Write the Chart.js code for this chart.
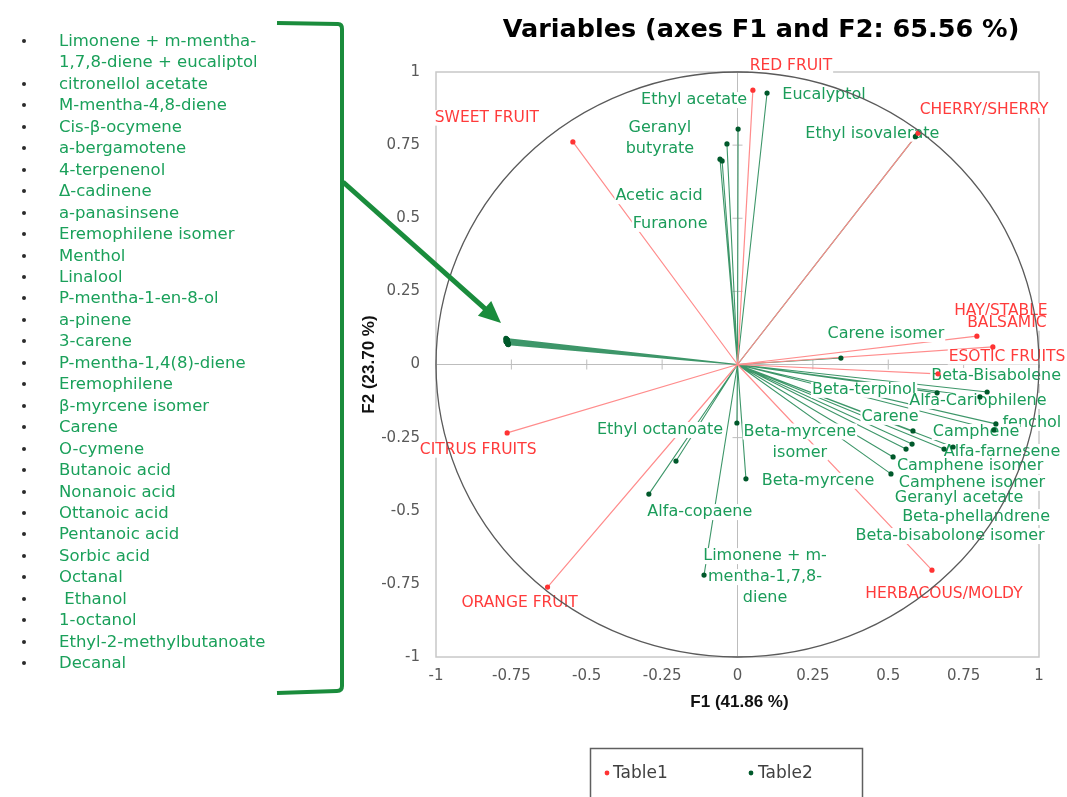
<!DOCTYPE html>
<html>
<head>
<meta charset="utf-8">
<script src="https://cdn.jsdelivr.net/npm/chart.js@4.4.1/dist/chart.umd.min.js"></script>
<style>
  html, body { margin: 0; padding: 0; background: #fff; }
  #wrap { position: relative; width: 1067px; height: 797px; overflow: hidden; }
  #plot { position: absolute; left: 0; top: 0; }
  #list {
    position: absolute; left: 0; top: 30px; margin: 0; padding: 0; list-style: none;
    font-family: 'DejaVu Sans', sans-serif; font-size: 16.5px; line-height: 21.45px; color: #1aa05a;
  }
  #list li { position: relative; padding-left: 59px; width: 232px; }
  #list li::before {
    content: ''; position: absolute; left: 22px; top: 9px; width: 4px; height: 4px;
    border-radius: 50%; background: #2b2b2b;
  }
</style>
</head>
<body>
<div id="wrap">
  <canvas id="plot" width="1067" height="797"></canvas>
  <ul id="list"></ul>
</div>
<script>
// ---- axis ticks ----
const tickValues = [-1, -0.75, -0.5, -0.25, 0, 0.25, 0.5, 0.75, 1];
const tickLabels = ['-1', '-0.75', '-0.5', '-0.25', '0', '0.25', '0.5', '0.75', '1'];

// ---- Table1: sensory descriptors (F1, F2 loadings) ----
const table1Names = ['RED FRUIT', 'SWEET FRUIT', 'CHERRY/SHERRY', 'HAY/STABLE', 'BALSAMIC',
                     'ESOTIC FRUITS', 'CITRUS FRUITS', 'ORANGE FRUIT', 'HERBACOUS/MOLDY'];
const table1F1 = [0.051, -0.546, 0.599, 0.794, 0.847, 0.665, -0.764, -0.630, 0.645];
const table1F2 = [0.938, 0.761, 0.791, 0.097, 0.060, -0.032, -0.234, -0.761, -0.703];

// ---- Table2: volatile compounds grouped on the left (listed beside the plot) ----
const groupedNames = ['Limonene + m-mentha-1,7,8-diene + eucaliptol', 'citronellol acetate',
  'M-mentha-4,8-diene', 'Cis-\u03b2-ocymene', 'a-bergamotene', '4-terpenenol', '\u0394-cadinene',
  'a-panasinsene', 'Eremophilene isomer', 'Menthol', 'Linalool', 'P-mentha-1-en-8-ol', 'a-pinene',
  '3-carene', 'P-mentha-1,4(8)-diene', 'Eremophilene', '\u03b2-myrcene isomer', 'Carene', 'O-cymene',
  'Butanoic acid', 'Nonanoic acid', 'Ottanoic acid', 'Pentanoic acid', 'Sorbic acid', 'Octanal',
  '\u00a0Ethanol', '1-octanol', 'Ethyl-2-methylbutanoate', 'Decanal'];
const groupedF1 = [-0.768, -0.765, -0.763, -0.767, -0.762, -0.766, -0.764, -0.760, -0.768, -0.765,
  -0.763, -0.761, -0.766, -0.764, -0.767, -0.762, -0.765, -0.763, -0.760, -0.766, -0.764, -0.762,
  -0.765, -0.761, -0.767, -0.763, -0.766, -0.764, -0.762];
const groupedF2 = [0.089, 0.085, 0.081, 0.078, 0.075, 0.087, 0.083, 0.072, 0.080, 0.076, 0.084,
  0.070, 0.079, 0.082, 0.086, 0.074, 0.077, 0.073, 0.068, 0.081, 0.078, 0.071, 0.083, 0.069, 0.088,
  0.075, 0.080, 0.077, 0.072];

// ---- Table2: labelled volatile compounds ----
const table2Names = ['Eucalyptol', 'Ethyl acetate', 'Geranyl\nbutyrate', 'Acetic acid', 'Furanone',
  'Ethyl isovalerate', 'Carene isomer', 'Beta-Bisabolene', 'Beta-terpinol', 'Alfa-Cariophilene',
  'fenchol', 'Carene', 'Camphene', 'Alfa-farnesene', 'Camphene isomer', 'Camphene isomer',
  'Geranyl acetate', 'Beta-phellandrene', 'Beta-bisabolone isomer', 'Ethyl octanoate',
  'Beta-myrcene\nisomer', 'Beta-myrcene', 'Alfa-copaene', 'Limonene + m-\nmentha-1,7,8-\ndiene'];
const table2F1 = [0.098, 0.002, -0.035, -0.058, -0.051, 0.590, 0.343, 0.828, 0.662, 0.804,
  0.857, 0.582, 0.851, 0.715, 0.516, 0.509, 0.559, 0.579, 0.685, -0.204,
  -0.002, 0.028, -0.294, -0.111];
const table2F2 = [0.928, 0.805, 0.754, 0.702, 0.696, 0.779, 0.022, -0.094, -0.097, -0.111,
  -0.203, -0.227, -0.224, -0.282, -0.316, -0.374, -0.289, -0.272, -0.289, -0.330,
  -0.200, -0.391, -0.443, -0.720];

// label placement: pixel offset of each label centre from its point
const table1LabelOffset = [[38, -24], [-86, -24], [66, -23], [24, -25], [14, -24], [69, -17],
  [-29, 17], [-28, 16], [12, 24]];
const table2LabelOffset = [[57, 2], [-44, -29], [-67, -6], [-61, 37], [-52, 63], [-43, -3],
  [45, -24], [9, -16], [-73, -3], [-2, 4], [36, -1], [-23, -14], [-18, 2], [49, 5], [77, 9],
  [81, 9], [53, 49], [64, 73], [6, 87], [-16, -31], [63, 19], [72, 2], [51, 18], [61, 2]];

// ---- colours / fonts ----
const RED_LINE = '#ff8c8c', RED_DOT = '#ff3333', RED_TEXT = '#ff3b3b';
const GREEN_LINE = '#3d9669', GREEN_DOT = '#00592b', GREEN_TEXT = '#1b9c5a';
const FONT = "'DejaVu Sans', sans-serif";

// list of grouped compounds beside the plot
const listEl = document.getElementById('list');
groupedNames.forEach(n => { const li = document.createElement('li'); li.textContent = n; listEl.appendChild(li); });

// vectors from the origin: origin, loading, gap
function vectors(f1, f2) {
  const out = [];
  f1.forEach((v, i) => { out.push({x: 0, y: 0}, {x: v, y: f2[i]}, {x: null, y: null}); });
  return out;
}
function points(f1, f2) { return f1.map((v, i) => ({x: v, y: f2[i]})); }

const allT2F1 = groupedF1.concat(table2F1);
const allT2F2 = groupedF2.concat(table2F2);

function drawLabel(ctx, text, cx, cy, color, size) {
  const lines = text.split('\n');
  const lh = 21;
  ctx.font = size + 'px ' + FONT;
  ctx.textAlign = 'center';
  ctx.textBaseline = 'middle';
  lines.forEach((ln, k) => {
    const ty = cy + (k - (lines.length - 1) / 2) * lh;
    const w = ctx.measureText(ln).width;
    ctx.fillStyle = '#fff';
    ctx.fillRect(cx - w / 2 - 1, ty - size * 0.5, w + 2, size * 1.0);
    ctx.fillStyle = color;
    ctx.fillText(ln, cx, ty);
  });
}

const decor = {
  id: 'decor',
  beforeDatasetsDraw(chart) {
    const {ctx, chartArea: a, scales: {x, y}} = chart;
    const x0 = x.getPixelForValue(0), y0 = y.getPixelForValue(0);
    ctx.save();
    ctx.strokeStyle = '#c8c8c8';
    ctx.lineWidth = 1.5;
    ctx.strokeRect(a.left, a.top, a.right - a.left, a.bottom - a.top);
    ctx.strokeStyle = '#bdbdbd';
    ctx.lineWidth = 1;
    ctx.beginPath();
    ctx.moveTo(a.left, y0); ctx.lineTo(a.right, y0);
    ctx.moveTo(x0, a.top); ctx.lineTo(x0, a.bottom);
    tickValues.forEach(v => {
      const py = y.getPixelForValue(v), px = x.getPixelForValue(v);
      ctx.moveTo(x0 - 5, py); ctx.lineTo(x0 + 5, py);
      ctx.moveTo(px, y0 - 5); ctx.lineTo(px, y0 + 5);
    });
    ctx.stroke();
    ctx.restore();
  },
  beforeDatasetDraw(chart, args) {
    if (args.index !== 1) return; // labels go under the point markers
    const {ctx, scales: {x, y}} = chart;
    ctx.save();
    table1Names.forEach((n, i) => {
      const px = x.getPixelForValue(table1F1[i]), py = y.getPixelForValue(table1F2[i]);
      drawLabel(ctx, n, px + table1LabelOffset[i][0], py + table1LabelOffset[i][1], RED_TEXT, 15.5);
    });
    table2Names.forEach((n, i) => {
      const px = x.getPixelForValue(table2F1[i]), py = y.getPixelForValue(table2F2[i]);
      drawLabel(ctx, n, px + table2LabelOffset[i][0], py + table2LabelOffset[i][1], GREEN_TEXT, 16);
    });
    ctx.restore();
  },
  afterDatasetsDraw(chart) {
    // correlation circle
    const {ctx, scales: {x, y}} = chart;
    const cx = x.getPixelForValue(0), cy = y.getPixelForValue(0);
    ctx.save();
    ctx.strokeStyle = '#5a5a5a';
    ctx.lineWidth = 1.3;
    ctx.beginPath();
    ctx.ellipse(cx, cy, x.getPixelForValue(1) - cx, cy - y.getPixelForValue(1), 0, 0, Math.PI * 2);
    ctx.stroke();
    ctx.restore();
  },
  afterDraw(chart) {
    const {ctx, chartArea: a} = chart;
    ctx.save();
    // title
    ctx.fillStyle = '#000';
    ctx.font = 'bold 25.5px ' + FONT;
    ctx.textAlign = 'center';
    ctx.textBaseline = 'middle';
    ctx.fillText('Variables (axes F1 and F2: 65.56 %)', 761, 30);
    // axis titles
    ctx.fillStyle = '#111';
    ctx.font = 'bold 17px "Liberation Sans", sans-serif';
    ctx.fillText('F1 (41.86 %)', (a.left + a.right) / 2 + 2, 702);
    ctx.save();
    ctx.translate(369, (a.top + a.bottom) / 2);
    ctx.rotate(-Math.PI / 2);
    ctx.fillText('F2 (23.70 %)', 0, 0);
    ctx.restore();
    // legend
    ctx.strokeStyle = '#5f5f5f';
    ctx.lineWidth = 1.5;
    ctx.strokeRect(590.5, 748.5, 272, 70);
    ctx.font = '17px ' + FONT;
    ctx.textAlign = 'left';
    ctx.fillStyle = RED_DOT;
    ctx.beginPath(); ctx.arc(607, 773, 2.4, 0, Math.PI * 2); ctx.fill();
    ctx.fillStyle = '#404040';
    ctx.fillText('Table1', 613, 774);
    ctx.fillStyle = GREEN_DOT;
    ctx.beginPath(); ctx.arc(751, 773, 2.4, 0, Math.PI * 2); ctx.fill();
    ctx.fillStyle = '#404040';
    ctx.fillText('Table2', 758, 774);
    // bracket around the grouped compound list
    ctx.strokeStyle = '#1a8c3c';
    ctx.lineWidth = 4;
    ctx.lineJoin = 'round';
    ctx.beginPath();
    ctx.moveTo(277, 23);
    ctx.lineTo(338, 24);
    ctx.quadraticCurveTo(342, 24, 342, 29);
    ctx.lineTo(342, 686);
    ctx.quadraticCurveTo(342, 691, 337, 691);
    ctx.lineTo(277, 693);
    ctx.stroke();
    // arrow pointing at the grouped vectors
    const sx = 343, sy = 182, tx = 501, ty = 323;
    const len = Math.hypot(tx - sx, ty - sy), ux = (tx - sx) / len, uy = (ty - sy) / len;
    const bx = tx - ux * 22, by = ty - uy * 22;
    ctx.lineWidth = 5;
    ctx.beginPath(); ctx.moveTo(sx, sy); ctx.lineTo(bx + ux * 2, by + uy * 2); ctx.stroke();
    ctx.fillStyle = '#1a8c3c';
    ctx.beginPath();
    ctx.moveTo(tx, ty);
    ctx.lineTo(bx - uy * 10, by + ux * 10);
    ctx.lineTo(bx + uy * 10, by - ux * 10);
    ctx.closePath();
    ctx.fill();
    ctx.restore();
  }
};

const tickFont = {family: FONT, size: 15};

new Chart(document.getElementById('plot'), {
  type: 'scatter',
  data: {
    datasets: [
      {label: 'Table1', data: points(table1F1, table1F2), showLine: false, pointRadius: 2.6,
       pointBackgroundColor: RED_DOT, pointBorderWidth: 0, order: 0},
      {label: 'Table2', data: points(allT2F1, allT2F2), showLine: false, pointRadius: 2.6,
       pointBackgroundColor: GREEN_DOT, pointBorderWidth: 0, order: 1},
      {label: 'Table1 vectors', data: vectors(table1F1, table1F2), showLine: true, spanGaps: false,
       pointRadius: 0, borderColor: RED_LINE, borderWidth: 1.2, order: 2},
      {label: 'Table2 vectors', data: vectors(allT2F1, allT2F2), showLine: true, spanGaps: false,
       pointRadius: 0, borderColor: GREEN_LINE, borderWidth: 1.1, order: 3}
    ]
  },
  options: {
    responsive: false,
    animation: false,
    devicePixelRatio: 1,
    layout: {padding: {top: 72, right: 28, bottom: 0, left: 0}},
    plugins: {legend: {display: false}, tooltip: {enabled: false}},
    scales: {
      x: {
        type: 'linear', min: -1, max: 1,
        afterBuildTicks: s => { s.ticks = tickValues.map(v => ({value: v})); },
        afterFit: s => { s.height = 140; },
        ticks: {callback: (v, i) => tickLabels[i], color: '#595959', font: tickFont, padding: 10,
                autoSkip: false, maxRotation: 0},
        grid: {display: false, drawTicks: false},
        border: {display: false}
      },
      y: {
        type: 'linear', min: -1, max: 1,
        afterBuildTicks: s => { s.ticks = tickValues.map(v => ({value: v})); },
        afterFit: s => { s.width = 436; },
        ticks: {callback: (v, i) => tickLabels[i], color: '#595959', font: tickFont, padding: 16,
                autoSkip: false},
        grid: {display: false, drawTicks: false},
        border: {display: false}
      }
    }
  },
  plugins: [decor]
});
</script>
</body>
</html>
